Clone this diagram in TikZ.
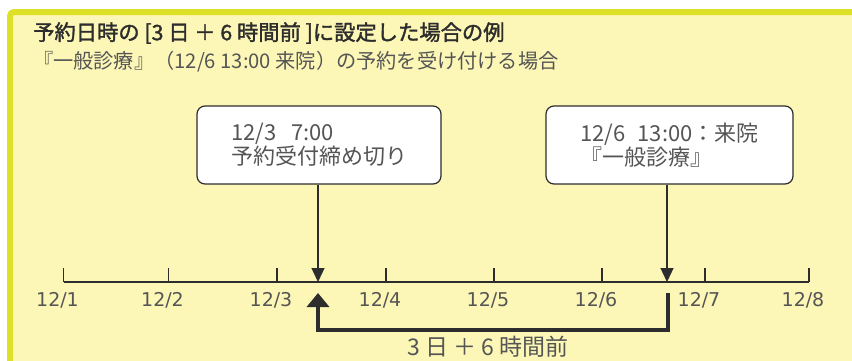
\documentclass[tikz,border=0pt]{standalone}
\usepackage{fontspec}
\setmainfont{Noto Sans CJK JP}
\newfontfamily\latnfont{DejaVu Sans}
\newfontfamily\titlefont[FakeBold=1.6]{Noto Sans CJK JP}
\usetikzlibrary{arrows.meta}
\definecolor{framebd}{RGB}{221,224,38}
\definecolor{framebg}{RGB}{252,247,182}
\definecolor{ink}{RGB}{45,45,45}
\definecolor{txt}{RGB}{85,85,85}
\tikzset{
  boxnode/.style={draw=ink, fill=white, rounded corners=8pt, line width=1.2pt, align=left,
    font=\fontsize{22}{24}\selectfont, text=txt, inner sep=0pt},
  axisline/.style={draw=ink, line width=1.3pt},
  ticklabel/.style={font=\latnfont\fontsize{19}{22}\selectfont, text=txt, inner sep=0pt},
  pointer/.style={draw=ink, line width=1.3pt, -{Triangle[width=13pt,length=14pt]}},
  spanline/.style={draw=ink, line width=4pt, -{Triangle[width=22pt,length=14pt]}},
}
\begin{document}
\begin{tikzpicture}[x=1pt,y=-1pt]
\useasboundingbox (0,0) rectangle (852,360);
\begin{scope}
\clip (0,0) rectangle (852,360);
\draw[framebd, fill=framebg, line width=6pt, rounded corners=4pt] (10,12) rectangle (950,450);
\end{scope}

\node[anchor=west, font=\titlefont\fontsize{21.3}{24}\selectfont, text=ink, inner sep=0pt] (title) at (33,33)
  {予約日時の [3 日 ＋ 6 時間前 ]に設定した場合の例};
\node[anchor=west, font=\fontsize{20.2}{22}\selectfont, text=txt, inner sep=0pt] (sub) at (33,62)
  {『一般診療』（12/6 13:00 来院）の予約を受け付ける場合};

\node[boxnode, minimum width=244pt, minimum height=78pt] (b1) at (319,145) {12/3\hspace{15pt}7:00\\予約受付締め切り};
\node[boxnode, minimum width=247pt, minimum height=78pt] (b2) at (669.5,145) {12/6\hspace{12pt}13:00：来院\\『一般診療』};

% axis ticks
\foreach \i/\x in {1/63.5,2/168.5,3/277,4/386,5/494,6/602,7/705,8/809}{
  \coordinate (t\i) at (\x,282);
  \draw[axisline] (t\i) -- ++(0,-14);
  \node[ticklabel] (l\i) at (\x-6,300) {12/\i};
}
\draw[axisline] (t1) -- (t8);

\coordinate (d1) at (318,282);
\coordinate (d2) at (667,282);
\draw[pointer] (b1.south -| d1) -- (d1);
\draw[pointer] (b2.south -| d2) -- (d2);

\coordinate (u1) at (318,293);
\coordinate (u2) at (668,293);
\coordinate (base) at (0,330);
\draw[spanline] (u2) -- (u2 |- base) -- (u1 |- base) -- (u1);
\node[font=\fontsize{23}{24}\selectfont, text=txt, inner sep=0pt] (span) at (488,347) {3 日 ＋ 6 時間前};
\end{tikzpicture}
\end{document}
